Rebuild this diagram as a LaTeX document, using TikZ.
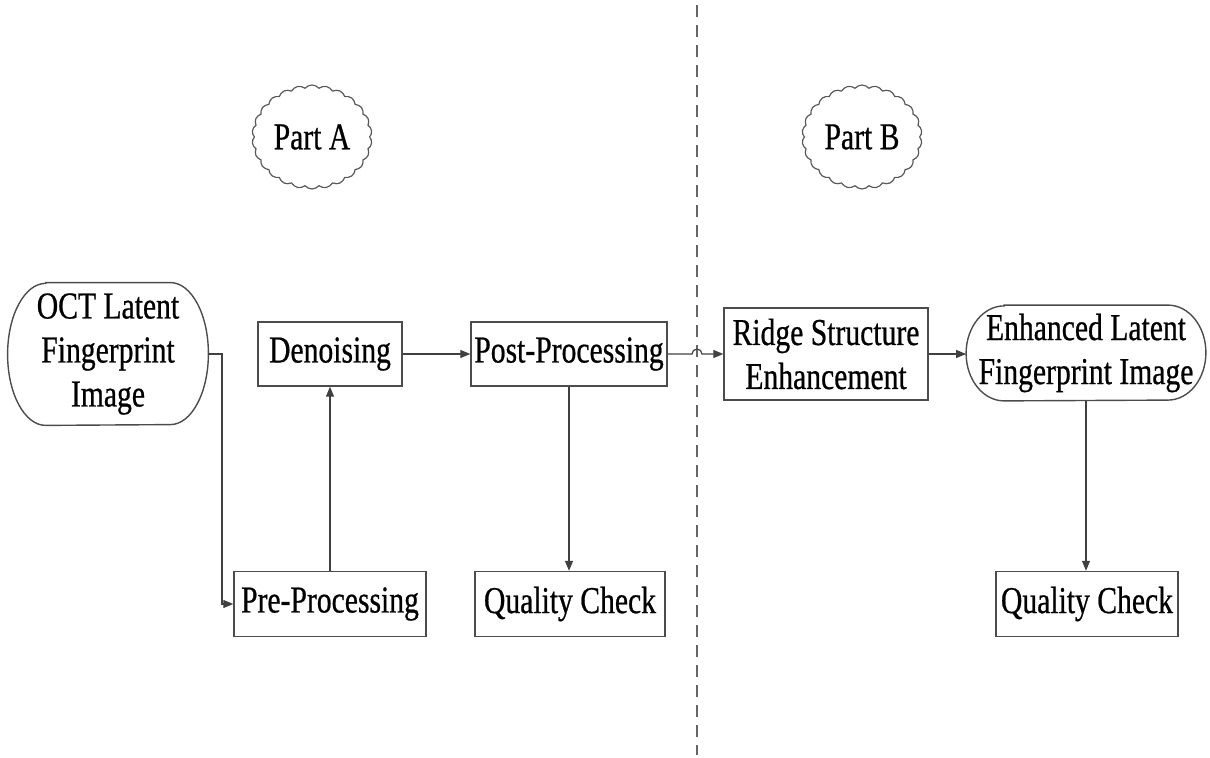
\documentclass[tikz,border=0pt]{standalone}
\usepackage{fontspec}
\setmainfont[FakeStretch=0.78,FakeBold=0.6]{Liberation Serif}
\usetikzlibrary{shapes.symbols,arrows.meta,calc}
\begin{document}
\begin{tikzpicture}[x=0.5pt,y=-0.5pt,
  boxline/.style={draw=black!70, line width=0.7pt},
  box/.style={boxline, inner sep=0pt, align=center, font=\fontsize{19}{22}\selectfont},
  term/.style={inner sep=0pt, align=center, font=\fontsize{19}{22}\selectfont},
  cloudbox/.style={cloud, cloud puffs=26, cloud puff arc=100, cloud ignores aspect, draw=black!65, line width=0.6pt, minimum width=60pt, minimum height=52pt, inner sep=0pt, font=\fontsize{19}{22}\selectfont},
  arr/.style={draw=black!75, line width=0.6pt, -{Triangle[length=5pt,width=4pt]}},
  divider/.style={draw=black!60, line width=0.6pt, dash pattern=on 6pt off 4pt}]
\useasboundingbox (0,0) rectangle (1210,758);
\coordinate (dtop) at (697,5);
\coordinate (dbot) at (697,755);
\draw[divider] (dtop) -- (dbot);

\node[term, minimum width=100pt, minimum height=71pt] (oct) at (108,354) {OCT Latent\\Fingerprint\\Image};
\draw[boxline] ($(oct.north west)+(19pt,0)$) -- ($(oct.north east)+(-19pt,0)$)
  arc[start angle=90, end angle=-90, x radius=19pt, y radius=35.5pt]
  -- ($(oct.south west)+(19pt,0)$)
  arc[start angle=270, end angle=90, x radius=19pt, y radius=35.5pt] -- cycle;
\node[box, minimum width=72pt, minimum height=32pt] (den) at (330,354) {Denoising};
\node[box, minimum width=98pt, minimum height=32pt] (post) at (569,354) {Post-Processing};
\node[box, minimum width=96pt, minimum height=32.5pt] (pre) at (330,604) {Pre-Processing};
\node[box, minimum width=95pt, minimum height=32.5pt] (qca) at (570,604) {Quality Check};
\node[box, minimum width=102pt, minimum height=46pt] (ridge) at (826,354) {Ridge Structure\\Enhancement};
\node[term, minimum width=119.5pt, minimum height=47.5pt] (enh) at (1086,353) {Enhanced Latent\\Fingerprint Image};
\draw[boxline] ($(enh.north west)+(19pt,0)$) -- ($(enh.north east)+(-19pt,0)$)
  arc[start angle=90, end angle=-90, x radius=19pt, y radius=23.75pt]
  -- ($(enh.south west)+(19pt,0)$)
  arc[start angle=270, end angle=90, x radius=19pt, y radius=23.75pt] -- cycle;
\node[box, minimum width=91pt, minimum height=32.5pt] (qcb) at (1087,604) {Quality Check};
\node[cloudbox] (pa) at (312,137) {Part A};
\node[cloudbox] (pb) at (862,137) {Part B};

\coordinate (bend) at (222,354);
\coordinate (j) at (697,354);
\draw[arr] (oct.east) -- (bend) |- (pre.west);
\draw[arr] (pre.north) -- (den.south);
\draw[arr] (den.east) -- (post.west);
\draw[arr] (post.south) -- (post.south |- qca.north);
\draw[arr] (post.east) -- ($(j)+(-5,0)$) arc[start angle=180, end angle=0, radius=2.5pt] -- (ridge.west);
\draw[arr] (ridge.east) -- (ridge.east -| enh.west);
\draw[arr] (enh.south) -- (enh.south |- qcb.north);
\end{tikzpicture}
\end{document}
